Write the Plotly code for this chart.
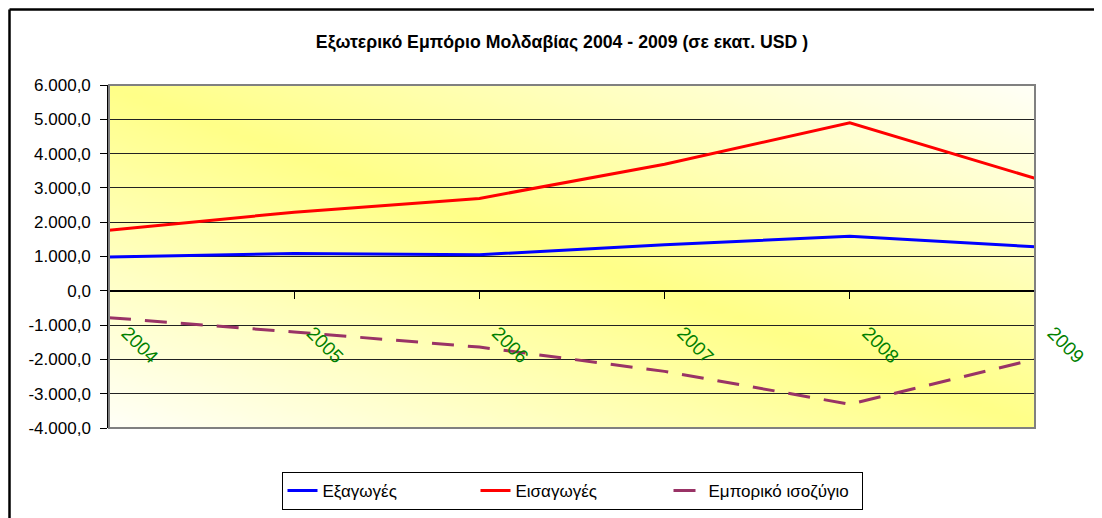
import zlib, struct, base64
import plotly.graph_objects as go

# ---- data ----
years = ["2004", "2005", "2006", "2007", "2008", "2009"]
exports = [985.0, 1091.0, 1052.0, 1341.0, 1591.0, 1283.0]
imports = [1768.0, 2292.0, 2693.0, 3690.0, 4899.0, 3278.0]
balance = [-783.0, -1201.0, -1641.0, -2349.0, -3308.0, -1995.0]
series_names = ["Εξαγωγές", "Εισαγωγές", "Εμπορικό ισοζύγιο"]
title_text = "Εξωτερικό Εμπόριο Μολδαβίας 2004 - 2009 (σε εκατ. USD )"
y_ticks = [-4000, -3000, -2000, -1000, 0, 1000, 2000, 3000, 4000, 5000, 6000]
y_tick_labels = ["-4.000,0", "-3.000,0", "-2.000,0", "-1.000,0", "0,0", "1.000,0",
                 "2.000,0", "3.000,0", "4.000,0", "5.000,0", "6.000,0"]
y_min, y_max = -4000, 6000


# ---- gradient background image (style only) ----
def gradient_png(w=96, h=48, bright=(255, 255, 136), pale=(255, 255, 246)):
    rows = []
    for j in range(h):
        v = 1 - j / (h - 1)
        row = bytearray([0])
        for i in range(w):
            u = i / (w - 1)
            t = min(1.0, abs(u + v - 1.0))
            px = [int(round(b + (p - b) * t)) for b, p in zip(bright, pale)]
            row.extend(px)
        rows.append(bytes(row))
    raw = b"".join(rows)

    def chunk(tag, data):
        return (struct.pack(">I", len(data)) + tag + data
                + struct.pack(">I", zlib.crc32(tag + data) & 0xFFFFFFFF))

    png = (b"\x89PNG\r\n\x1a\n"
           + chunk(b"IHDR", struct.pack(">IIBBBBB", w, h, 8, 2, 0, 0, 0))
           + chunk(b"IDAT", zlib.compress(raw, 9))
           + chunk(b"IEND", b""))
    return "data:image/png;base64," + base64.b64encode(png).decode()


FONT = "Liberation Sans, Arial, sans-serif"
W, H = 1094, 510
L, R, T, B = 101, 67, 77, 90
plot_h = H - T - B
plot_w = W - L - R

fig = go.Figure()
fig.add_trace(go.Scatter(x=years, y=exports, name=series_names[0], mode="lines",
                         line=dict(color="#0000FF", width=3)))
fig.add_trace(go.Scatter(x=years, y=imports, name=series_names[1], mode="lines",
                         line=dict(color="#FF0000", width=3)))
fig.add_trace(go.Scatter(x=years, y=balance, name=series_names[2], mode="lines",
                         line=dict(color="#993366", width=3, dash="22px,14px")))

fig.update_layout(
    width=W, height=H,
    margin=dict(l=L, r=R, t=T, b=B, autoexpand=False),
    paper_bgcolor="white",
    plot_bgcolor="rgba(0,0,0,0)",
    font=dict(family=FONT, color="black", size=15),
    title=dict(text="<b>" + title_text + "</b>", x=554 / W, xref="container", xanchor="center",
               y=1 - 34 / H, yanchor="middle", font=dict(size=17.7, family=FONT)),
    showlegend=True,
    legend=dict(orientation="h", x=0.5, xanchor="center", y=-44 / plot_h, yanchor="top",
                bordercolor="black", borderwidth=1, bgcolor="white",
                font=dict(size=17, family=FONT), entrywidth=148,
                tracegroupgap=0),
    images=[dict(source=gradient_png(), xref="paper", yref="paper", x=0, y=1,
                 sizex=1, sizey=1, sizing="stretch", layer="below")],
    shapes=[
        dict(type="rect", xref="paper", yref="paper", x0=0, x1=1, y0=0, y1=1,
             line=dict(color="#808080", width=2), layer="above"),
        dict(type="line", xref="paper", yref="paper", x0=-(L - 1.5) / plot_w, x1=-(L - 1.5) / plot_w,
             y0=-0.5, y1=(plot_h + T - 1.5) / plot_h, line=dict(color="black", width=2.5)),
        dict(type="line", xref="paper", yref="paper", x0=-(L - 1.5) / plot_w, x1=1.2,
             y0=(plot_h + T - 1.5) / plot_h, y1=(plot_h + T - 1.5) / plot_h,
             line=dict(color="black", width=2.5)),
    ],
)

fig.update_yaxes(
    range=[y_min, y_max], tickmode="array", tickvals=y_ticks, ticktext=y_tick_labels,
    automargin=False,
    showgrid=True, gridcolor="#222222", gridwidth=1, zeroline=False,
    showline=True, linecolor="black", linewidth=1.5,
    ticks="outside", ticklen=7, tickcolor="black", ticklabelstandoff=6,
    tickfont=dict(size=17, family=FONT, color="black"),
)
fig.update_xaxes(
    type="category", range=[0, 5], anchor="free",
    position=(0 - y_min) / (y_max - y_min), automargin=False,
    showgrid=False, zeroline=False,
    showline=True, linecolor="black", linewidth=1.5,
    ticks="outside", ticklen=7, tickcolor="black",
    tickangle=45, ticklabelstandoff=16, ticklabelshift=18,
    tickfont=dict(size=19, family=FONT, color="#008000"),
)

fig.write_html("out.html")
